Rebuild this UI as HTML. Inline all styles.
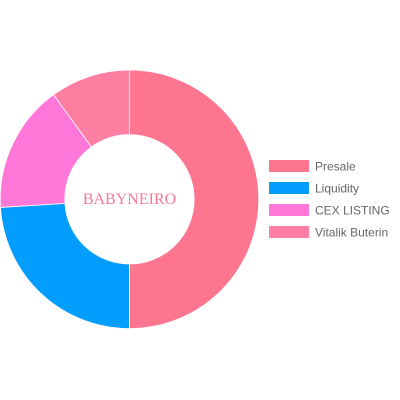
<!DOCTYPE html>
<html><head><meta charset="utf-8"><style>
body{margin:0;background:#fff;width:400px;height:400px;overflow:hidden}
svg{display:block}
</style></head><body>
<svg id="chart" width="400" height="400">
<g id="slices"></g>
<text x="129.5" y="204" text-anchor="middle" font-family="Liberation Serif, serif" font-size="16" fill="#f37a95">BABYNEIRO</text>
<g id="legend"></g>
</svg>
<script>
const labels = ["Presale","Liquidity","CEX LISTING","Vitalik Buterin"];
const values = [50,24,16,10];
const colors = ["#fe7590","#039dfe","#fe77d9","#fe7fa2"];
const cx=129.5, cy=199.3, R=129.3, r=64.7;
const NS="http://www.w3.org/2000/svg";
const total=values.reduce((a,b)=>a+b,0);
let a0=-Math.PI/2;
const g=document.getElementById('slices');
function pt(rad,a){return [cx+rad*Math.cos(a), cy+rad*Math.sin(a)];}
values.forEach((v,i)=>{
  const a1=a0+v/total*2*Math.PI;
  const large=(a1-a0)>Math.PI?1:0;
  const [x0,y0]=pt(R,a0),[x1,y1]=pt(R,a1),[x2,y2]=pt(r,a1),[x3,y3]=pt(r,a0);
  const p=document.createElementNS(NS,'path');
  p.setAttribute('d',`M${x0},${y0}A${R},${R} 0 ${large} 1 ${x1},${y1}L${x2},${y2}A${r},${r} 0 ${large} 0 ${x3},${y3}Z`);
  p.setAttribute('fill',colors[i]);
  p.setAttribute('stroke','#fff');
  p.setAttribute('stroke-width','0.8');
  
  
  g.appendChild(p);
  a0=a1;
});
const lg=document.getElementById('legend');
labels.forEach((l,i)=>{
  const y=160+i*22;
  const item=document.createElementNS(NS,'g');
  
  
  const rc=document.createElementNS(NS,'rect');
  rc.setAttribute('x',269);rc.setAttribute('y',y);rc.setAttribute('width',40);rc.setAttribute('height',12);
  rc.setAttribute('fill',colors[i]);
  const t=document.createElementNS(NS,'text');
  t.setAttribute('x',315);t.setAttribute('y',y+10.5);
  t.setAttribute('font-family','Liberation Sans, sans-serif');t.setAttribute('font-size','12');t.setAttribute('fill','#666');
  t.textContent=l;
  item.appendChild(rc);item.appendChild(t);lg.appendChild(item);
});
</script>
</body></html>
